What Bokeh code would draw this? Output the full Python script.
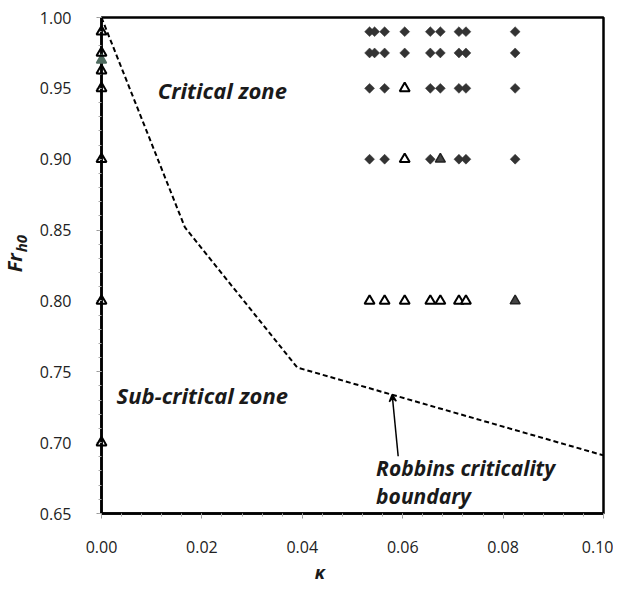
import numpy as np
from bokeh.plotting import figure
from bokeh.models import Label, Arrow, VeeHead, FixedTicker, PrintfTickFormatter, Range1d
from bokeh.core.properties import value
from bokeh.embed import file_html
from bokeh.resources import INLINE

# ---- data ----
x_ticks = [0.00, 0.02, 0.04, 0.06, 0.08, 0.10]
y_ticks = [0.65, 0.70, 0.75, 0.80, 0.85, 0.90, 0.95, 1.00]

# sub-critical (open triangles) at kappa = 0
axis_tri_kappa = [0.0, 0.0, 0.0, 0.0, 0.0, 0.0, 0.0]
axis_tri_fr = [0.99, 0.975, 0.9625, 0.95, 0.90, 0.80, 0.70]
axis_fill_kappa = [0.0]
axis_fill_fr = [0.97]

# critical flow (filled diamonds)
dia_kappa = [0.0534, 0.0544, 0.0564, 0.0604, 0.0655, 0.0675, 0.0712, 0.0726, 0.0824,
             0.0534, 0.0544, 0.0564, 0.0604, 0.0655, 0.0675, 0.0712, 0.0726, 0.0824,
             0.0534, 0.0564, 0.0655, 0.0675, 0.0712, 0.0726, 0.0824,
             0.0534, 0.0564, 0.0655, 0.0712, 0.0726, 0.0824]
dia_fr = [0.99] * 9 + [0.975] * 9 + [0.95] * 7 + [0.90] * 6

# sub-critical (open triangles) with kappa > 0
tri_kappa = [0.0604, 0.0604, 0.0534, 0.0564, 0.0604, 0.0655, 0.0675, 0.0712, 0.0726]
tri_fr = [0.95, 0.90, 0.80, 0.80, 0.80, 0.80, 0.80, 0.80, 0.80]

# filled triangles
ftri_kappa = [0.0675, 0.0824]
ftri_fr = [0.90, 0.80]

# Robbins criticality boundary
bound_kappa = [0.0, 0.0166, 0.039, 0.10]
bound_fr = [1.0, 0.852, 0.753, 0.691]

FONT = "Open Sans"

p = figure(width=613, height=583,
           x_range=Range1d(0, 0.10), y_range=Range1d(0.65, 1.00),
           output_backend="svg", toolbar_location=None,
           min_border_left=101, min_border_right=10,
           min_border_top=17, min_border_bottom=70)
p.grid.visible = False
p.outline_line_color = "black"
p.outline_line_width = 2.5
p.background_fill_color = "white"
p.border_fill_color = "white"

for ax in (p.xaxis[0], p.yaxis[0]):
    ax.axis_line_color = "black"
    ax.axis_line_width = 2.5
    ax.major_tick_line_color = "#999999"
    ax.minor_tick_line_color = "#aaaaaa"
    ax.major_tick_in = 0
    ax.major_tick_out = 5
    ax.minor_tick_in = 0
    ax.minor_tick_out = 3
    ax.major_label_text_font = FONT
    ax.major_label_text_font_size = "16px"
    ax.major_label_text_color = "#222222"
    ax.formatter = PrintfTickFormatter(format="%.2f")

p.xaxis.ticker = FixedTicker(ticks=x_ticks, minor_ticks=list(np.round(np.arange(0, 0.1001, 0.004), 4)))
p.yaxis.ticker = FixedTicker(ticks=y_ticks, minor_ticks=list(np.round(np.arange(0.65, 1.0001, 0.01), 3)))
p.xaxis.major_label_standoff = 22
p.yaxis.major_label_standoff = 25

# boundary
p.line(bound_kappa, bound_fr, line_color="black", line_width=2, line_dash="5 3")

# markers
p.scatter(dia_kappa, dia_fr, marker="square", angle=np.pi / 4, size=7,
          fill_color="#333333", line_color="#333333", line_width=0.5)
p.scatter(tri_kappa, tri_fr, marker="triangle", size=10, fill_color="white",
          line_color="black", line_width=2)
p.scatter(ftri_kappa, ftri_fr, marker="triangle", size=10, fill_color="#444444",
          line_color="#222222", line_width=1.5)
p.scatter(axis_fill_kappa, axis_fill_fr, marker="triangle", size=10, fill_color="#4f6b5f",
          line_color="#4f6b5f", line_width=1.5, level="overlay")
p.scatter(axis_tri_kappa, axis_tri_fr, marker="triangle", size=10, fill_color="white",
          fill_alpha=0.0, line_color="black", line_width=2, level="overlay")

# zone labels
txt = dict(text_font=FONT, text_font_style="bold italic", text_color="#1a1a1a",
           text_baseline="alphabetic")
p.add_layout(Label(x=0.0112, y=0.9486, text="Critical zone", text_font_size="22px", **txt))
p.add_layout(Label(x=0.003, y=0.7336, text="Sub-critical zone", text_font_size="22px", **txt))
p.add_layout(Label(x=0.0547, y=0.6819, text="Robbins criticality", text_font_size="21px", **txt))
p.add_layout(Label(x=0.0547, y=0.6621, text="boundary", text_font_size="21px", **txt))

p.add_layout(Arrow(x_start=0.0591, y_start=0.6904, x_end=0.0579, y_end=0.734,
                   line_width=1.5, line_color="black",
                   end=VeeHead(size=7, line_width=1.5, line_color="black")))

# axis titles (glyphs at overlay level so they are drawn outside the frame)
gtxt = dict(text_font=value(FONT), text_font_style="bold italic", text_color="#1a1a1a",
            text_baseline="alphabetic", level="overlay")
p.text(x=[0.0435], y=[0.6086], text=["κ"], text_align="center",
       text_font_size="18px", **gtxt)
p.text(x=[-0.01737], y=[0.8202], text=["Fr"], angle=np.pi / 2, text_align="left",
       text_font_size="20px", **gtxt)
p.text(x=[-0.01597], y=[0.8343], text=["h0"], angle=np.pi / 2, text_align="left",
       text_font_size="15px", **gtxt)

open("out.html", "w").write(file_html(p, INLINE))
